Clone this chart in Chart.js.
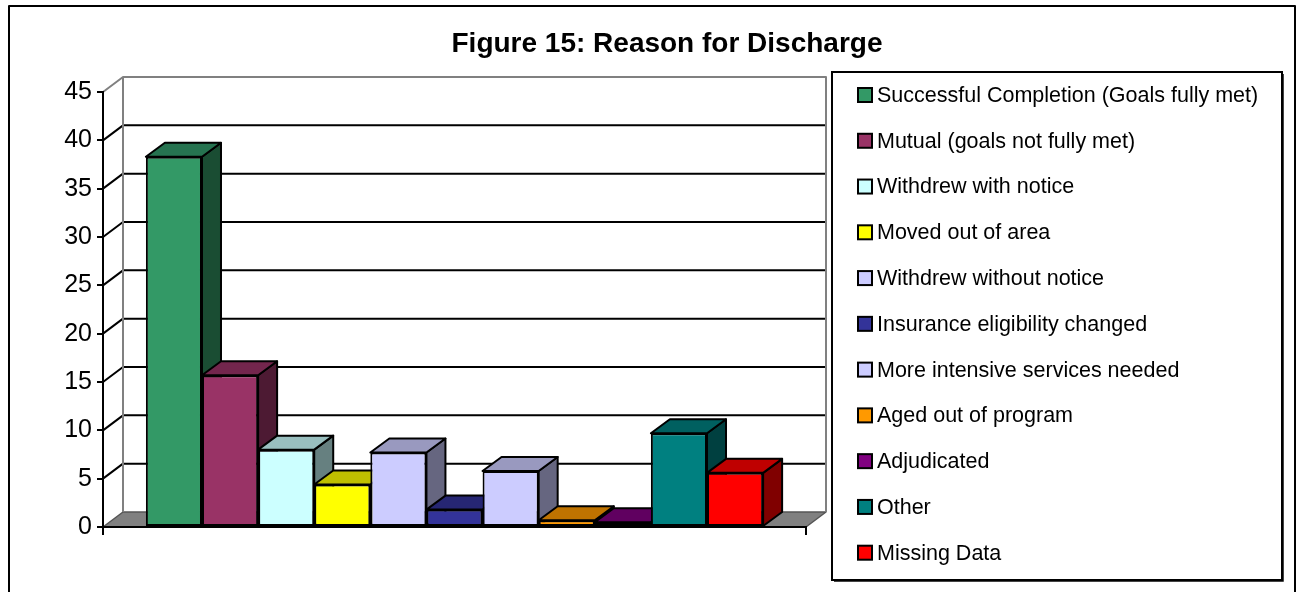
<!DOCTYPE html>
<html>
<head>
<meta charset="utf-8">
<script src="https://cdn.jsdelivr.net/npm/chart.js@4/dist/chart.umd.min.js"></script>
<style>
  html, body { margin: 0; padding: 0; background: #fff; }
  #wrap { width: 1297px; height: 592px; }
</style>
</head>
<body>
<div id="wrap"><canvas id="chart" width="1297" height="592"></canvas></div>
<script>
// 차트 데이터
const title = 'Figure 15: Reason for Discharge';
const reasons = [
  'Successful Completion (Goals fully met)',
  'Mutual (goals not fully met)',
  'Withdrew with notice',
  'Moved out of area',
  'Withdrew without notice',
  'Insurance eligibility changed',
  'More intensive services needed',
  'Aged out of program',
  'Adjudicated',
  'Other',
  'Missing Data'
];
const values = [38.3, 15.7, 8.0, 4.4, 7.7, 1.8, 5.8, 0.7, 0.5, 9.7, 5.6];
const yTicks = [0, 5, 10, 15, 20, 25, 30, 35, 40, 45];

// 앞면 / 윗면 / 옆면 색상
const frontColors = ['#339966', '#993366', '#CCFFFF', '#FFFF00', '#CCCCFF', '#333399', '#CCCCFF', '#FF9900', '#800080', '#008080', '#FF0000'];
const topColors   = ['#267350', '#73264D', '#99BFBF', '#BFBF00', '#9999BF', '#262673', '#9999BF', '#BF7300', '#600060', '#006060', '#BF0000'];
const sideColors  = ['#1A4D33', '#4D1A33', '#668080', '#808000', '#666680', '#1A1A4D', '#666680', '#804D00', '#400040', '#004040', '#800000'];

const FONT = '"Liberation Sans", Arial, sans-serif';
const DX = 20, DY = -15;    // 벽 깊이
const BDX = 19, BDY = -14;  // 막대 깊이

const threeD = {
  id: 'threeD',
  beforeDraw(chart) {
    const { ctx, chartArea: a, scales: { y } } = chart;
    const y0 = y.getPixelForValue(0);
    const yTop = y.getPixelForValue(yTicks[yTicks.length - 1]);
    ctx.save();
    ctx.lineJoin = 'round';

    // 바깥 테두리
    ctx.strokeStyle = '#000';
    ctx.lineWidth = 2;
    ctx.strokeRect(9, 6, 1286, 620);

    // 바닥
    ctx.beginPath();
    ctx.moveTo(a.left, y0);
    ctx.lineTo(a.right, y0);
    ctx.lineTo(a.right + DX, y0 + DY);
    ctx.lineTo(a.left + DX, y0 + DY);
    ctx.closePath();
    ctx.fillStyle = '#808080';
    ctx.fill();
    ctx.strokeStyle = '#555';
    ctx.lineWidth = 1.5;
    ctx.stroke();

    // 눈금선 (옆벽 + 뒷벽)
    ctx.strokeStyle = '#000';
    ctx.lineWidth = 2;
    yTicks.slice(1, -1).forEach(v => {
      const py = y.getPixelForValue(v);
      ctx.beginPath();
      ctx.moveTo(a.left, py);
      ctx.lineTo(a.left + DX, py + DY);
      ctx.lineTo(a.right + DX, py + DY);
      ctx.stroke();
    });

    // 벽 테두리
    ctx.strokeStyle = '#808080';
    ctx.beginPath();
    ctx.moveTo(a.left, yTop);
    ctx.lineTo(a.left + DX, yTop + DY);
    ctx.lineTo(a.right + DX, yTop + DY);
    ctx.lineTo(a.right + DX, y0 + DY);
    ctx.moveTo(a.left + DX, yTop + DY);
    ctx.lineTo(a.left + DX, y0 + DY);
    ctx.stroke();
    ctx.restore();
  },
  beforeDatasetsDraw(chart) {
    const { ctx } = chart;
    ctx.save();
    ctx.lineJoin = 'round';
    ctx.strokeStyle = '#000';
    ctx.lineWidth = 2;
    chart.data.datasets.forEach((ds, i) => {
      const el = chart.getDatasetMeta(i).data[0];
      const l = el.x - el.width / 2, r = el.x + el.width / 2;
      const t = el.y, b = el.base;
      // 옆면
      ctx.beginPath();
      ctx.moveTo(r, t);
      ctx.lineTo(r + BDX, t + BDY);
      ctx.lineTo(r + BDX, b + BDY);
      ctx.lineTo(r, b);
      ctx.closePath();
      ctx.fillStyle = sideColors[i];
      ctx.fill();
      ctx.stroke();
      // 윗면
      ctx.beginPath();
      ctx.moveTo(l, t);
      ctx.lineTo(l + BDX, t + BDY);
      ctx.lineTo(r + BDX, t + BDY);
      ctx.lineTo(r, t);
      ctx.closePath();
      ctx.fillStyle = topColors[i];
      ctx.fill();
      ctx.stroke();
    });
    ctx.restore();
  },
  afterDraw(chart) {
    const { ctx } = chart;
    ctx.save();
    // 제목
    ctx.fillStyle = '#000';
    ctx.font = 'bold 28px ' + FONT;
    ctx.textAlign = 'center';
    ctx.textBaseline = 'alphabetic';
    ctx.fillText(title, 667, 52);

    // 범례
    ctx.strokeStyle = '#000';
    ctx.lineWidth = 2;
    ctx.strokeRect(832, 72, 450, 508);
    ctx.strokeStyle = '#444';
    ctx.lineWidth = 1;
    ctx.beginPath();
    ctx.moveTo(834, 581.5);
    ctx.lineTo(1283.5, 581.5);
    ctx.lineTo(1283.5, 74);
    ctx.stroke();
    ctx.strokeStyle = '#000';
    ctx.lineWidth = 2;
    ctx.font = '21.5px ' + FONT;
    ctx.textAlign = 'left';
    ctx.textBaseline = 'middle';
    reasons.forEach((name, i) => {
      const cy = 95 + i * 45.77;
      ctx.fillStyle = frontColors[i];
      ctx.fillRect(858, cy - 7, 14, 14);
      ctx.strokeRect(858, cy - 7, 14, 14);
      ctx.fillStyle = '#000';
      ctx.fillText(name, 877, cy + 1);
    });
    ctx.restore();
  }
};

new Chart(document.getElementById('chart'), {
  type: 'bar',
  data: {
    labels: [''],
    datasets: reasons.map((name, i) => ({
      label: name,
      data: [values[i]],
      backgroundColor: frontColors[i],
      borderColor: '#000',
      borderWidth: 2,
      borderSkipped: false
    }))
  },
  options: {
    responsive: false,
    animation: false,
    events: [],
    barPercentage: 1,
    categoryPercentage: 0.878,
    layout: { padding: { left: 0, right: 491, top: 92, bottom: 45 } },
    plugins: {
      legend: { display: false },
      title: { display: false },
      tooltip: { enabled: false }
    },
    scales: {
      x: {
        ticks: { display: false },
        grid: { drawOnChartArea: false, drawTicks: true, tickLength: 8, color: '#000', lineWidth: 2 },
        border: { display: true, color: '#000', width: 2 },
        afterFit: s => { s.height = 20; }
      },
      y: {
        min: 0,
        max: 45,
        afterBuildTicks: s => { s.ticks = yTicks.map(v => ({ value: v })); },
        ticks: { color: '#000', padding: 5, font: { family: FONT, size: 25 } },
        grid: { drawOnChartArea: false, drawTicks: true, tickLength: 6, color: '#000', lineWidth: 2 },
        border: { display: true, color: '#000', width: 2 },
        afterFit: s => { s.width = 103; }
      }
    }
  },
  plugins: [threeD]
});
</script>
</body>
</html>
